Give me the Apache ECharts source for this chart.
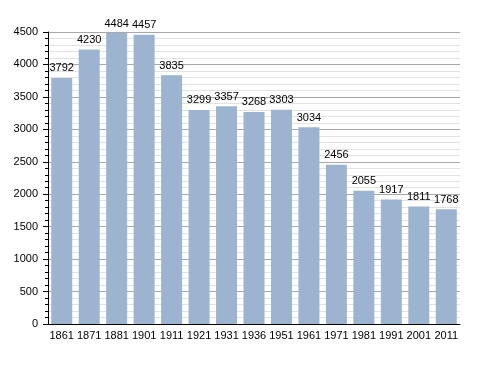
<!DOCTYPE html>
<html><head><meta charset="utf-8">
<script src="https://cdn.jsdelivr.net/npm/echarts@6/dist/echarts.min.js"></script>
<style>html,body{margin:0;padding:0;background:#fff}#c{width:488px;height:373px}</style>
</head><body><div id="c"></div>
<script>
var years = ['1861','1871','1881','1901','1911','1921','1931','1936','1951','1961','1971','1981','1991','2001','2011'];
var population = [3792,4230,4484,4457,3835,3299,3357,3268,3303,3034,2456,2055,1917,1811,1768];
var chart = echarts.init(document.getElementById('c'), null, {renderer:'canvas'});
var font = 'Liberation Sans, Arial, sans-serif';
chart.setOption({
  animation:false,
  grid:{left:48,right:28,top:32,bottom:49},
  xAxis:{type:'category',data:years,
    axisLine:{lineStyle:{color:'#000',width:1}},
    axisTick:{show:false},
    axisLabel:{color:'#000',fontFamily:font,fontSize:11,margin:6,interval:0}},
  yAxis:{type:'value',min:0,max:4500,interval:500,
    axisLine:{show:true,lineStyle:{color:'#000'}},
    axisTick:{show:true,length:5,lineStyle:{color:'#000'}},
    minorTick:{show:true,splitNumber:5,length:3,lineStyle:{color:'#000'}},
    splitLine:{lineStyle:{color:'#a8a8a8'}},
    minorSplitLine:{show:true,lineStyle:{color:'#e2e2e2'}},
    axisLabel:{color:'#000',fontFamily:font,fontSize:11,margin:10,formatter:function(v){return String(v);}}},
  series:[{type:'bar',data:population,barWidth:21,
    itemStyle:{color:'#9cb4d0'},
    label:{show:true,position:'top',color:'#000',fontFamily:font,fontSize:11,distance:4}}]
});
</script></body></html>
